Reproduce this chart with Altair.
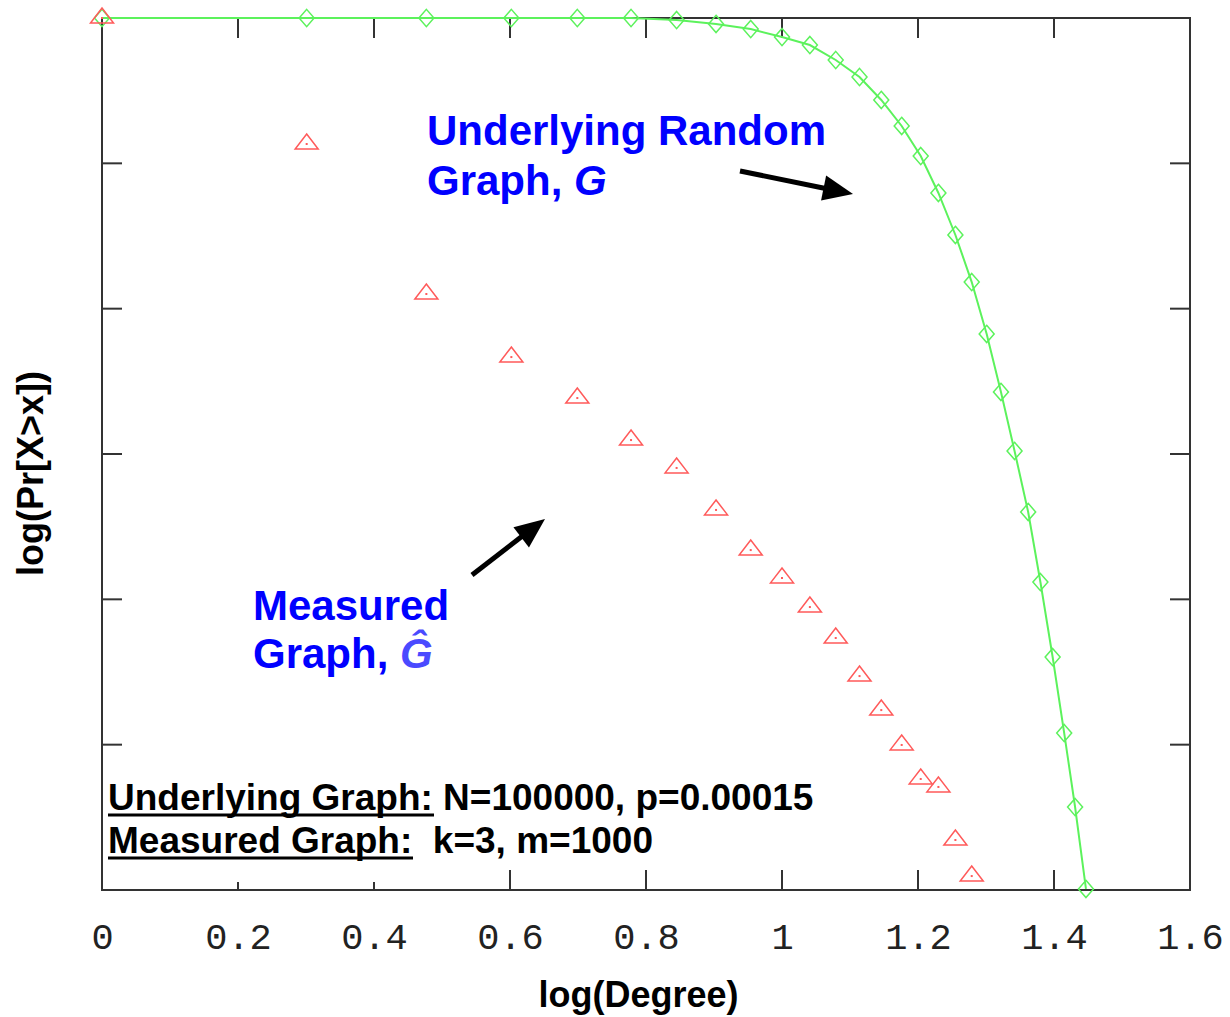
import altair as alt
import pandas as pd

# ---- data ----
log_degree = [0.000, 0.301, 0.477, 0.602, 0.699, 0.778, 0.845, 0.903, 0.954, 1.000,
              1.041, 1.079, 1.114, 1.146, 1.176, 1.204, 1.230, 1.255, 1.279, 1.301,
              1.322, 1.342, 1.362, 1.380, 1.398, 1.415, 1.431, 1.447]
underlying_logpr = [0.0, 0.0, 0.0, 0.0, 0.0, 0.0, -0.014, -0.041, -0.076, -0.131,
                    -0.186, -0.289, -0.406, -0.564, -0.743, -0.950, -1.204, -1.493, -1.817, -2.174,
                    -2.573, -2.979, -3.399, -3.881, -4.397, -4.920, -5.429, -5.993]
measured_logpr = [0.0, -0.867, -1.899, -2.333, -2.615, -2.904, -3.096, -3.385, -3.661, -3.853,
                  -4.053, -4.266, -4.528, -4.762, -5.002, -5.236, -5.291, -5.656, -5.904]
x_label_values = [0, 0.2, 0.4, 0.6, 0.8, 1.0, 1.2, 1.4, 1.6]
x_tick_values = [0.2, 0.4, 0.6, 0.8, 1.0, 1.2, 1.4]
y_tick_values = [-1, -2, -3, -4, -5]

W, H = 1088, 872
GREEN = "#5cf25c"
RED = "#ff5a5a"
BLUE = "#0000ff"
FRAME = "#333333"
SANS = "Liberation Sans"

green_df = pd.DataFrame({"x": log_degree, "y": underlying_logpr})
red_df = pd.DataFrame({"x": log_degree[:len(measured_logpr)], "y": measured_logpr})
xt_df = pd.DataFrame({"v": x_tick_values})
yt_df = pd.DataFrame({"v": y_tick_values})
one = pd.DataFrame({"a": [0]})

xs = alt.Scale(domain=[0, 1.6], nice=False, zero=False)
ys = alt.Scale(domain=[-6, 0], nice=False, zero=False)

xaxis = alt.Axis(values=x_label_values, format="~g", title="log(Degree)", grid=False,
                 domain=False, ticks=False, tickSize=0, labelFont="Liberation Mono",
                 labelFontSize=37, labelColor="#222222", labelBaseline="alphabetic",
                 labelPadding=58, labelFlush=False, labelOverlap=False,
                 titleFont=SANS, titleFontSize=36, titleFontWeight="bold", titleColor="black",
                 titleX=536, titleY=116, titleAlign="center", titleBaseline="alphabetic")
yaxis = alt.Axis(title="log(Pr[X>x])", labels=False, ticks=False, domain=False, grid=False,
                 titleFont=SANS, titleFontSize=36, titleFontWeight="bold", titleColor="black",
                 titleAngle=270, titleX=-60, titleY=455, titleAlign="center",
                 titleBaseline="alphabetic")

X = lambda f: alt.X(f, scale=xs, axis=xaxis)
Y = lambda f: alt.Y(f, scale=ys, axis=yaxis)

layers = []

# inward ticks on all four sides
tick = dict(color=FRAME, strokeWidth=2)
layers.append(alt.Chart(xt_df).mark_rule(**tick).encode(x=X("v:Q"), y=alt.value(H), y2=alt.value(H - 20)))
layers.append(alt.Chart(xt_df).mark_rule(**tick).encode(x=X("v:Q"), y=alt.value(0), y2=alt.value(20)))
layers.append(alt.Chart(yt_df).mark_rule(**tick).encode(y=Y("v:Q"), x=alt.value(0), x2=alt.value(20)))
layers.append(alt.Chart(yt_df).mark_rule(**tick).encode(y=Y("v:Q"), x=alt.value(W), x2=alt.value(W - 20)))

# white box behind the bottom-left caption
layers.append(alt.Chart(one).mark_rect(color="white").encode(
    x=alt.value(2), x2=alt.value(338), y=alt.value(754), y2=alt.value(864)))

# underlying graph: line + hollow diamonds
layers.append(alt.Chart(green_df).mark_line(color=GREEN, strokeWidth=2).encode(x=X("x:Q"), y=Y("y:Q")))
layers.append(alt.Chart(green_df).mark_point(
    shape="M0,-1.15 L1,0 L0,1.15 L-1,0 Z", size=225, filled=False, color=GREEN,
    strokeWidth=1.5, opacity=1).encode(x=X("x:Q"), y=Y("y:Q")))

# measured graph: hollow triangles with centre dot
layers.append(alt.Chart(red_df).mark_point(
    shape="M0,-0.87 L1,0.43 L-1,0.43 Z", size=529, filled=False, color=RED,
    strokeWidth=1.5, opacity=1).encode(x=X("x:Q"), y=Y("y:Q")))
layers.append(alt.Chart(red_df).mark_point(
    shape="square", size=4, filled=True, color=RED, opacity=1).encode(x=X("x:Q"), y=Y("y:Q")))

def txt(s, x, y, size=42, color=BLUE, style="normal"):
    return alt.Chart(one).mark_text(text=s, font=SANS, fontSize=size, fontWeight="bold",
                                    fontStyle=style, color=color, align="left",
                                    baseline="alphabetic").encode(x=alt.value(x), y=alt.value(y))

layers.append(txt("Underlying Random", 325, 127))
layers.append(txt("Graph, ", 325, 177))
layers.append(txt("G", 472, 177, style="italic"))
layers.append(txt("Measured", 151, 602))
layers.append(txt("Graph, ", 151, 650))
layers.append(txt("\u011c", 298, 650, color="#4a4aff", style="italic"))

layers.append(txt("Underlying Graph: N=100000, p=0.00015", 6, 792, size=37, color="black"))
layers.append(txt("Measured Graph:\u00a0 k=3, m=1000", 6, 835, size=37, color="black"))
layers.append(alt.Chart(one).mark_rule(color="black", strokeWidth=3).encode(
    x=alt.value(6), x2=alt.value(332), y=alt.value(797)))
layers.append(alt.Chart(one).mark_rule(color="black", strokeWidth=3).encode(
    x=alt.value(6), x2=alt.value(311), y=alt.value(840)))

# arrows
def arrow(x0, y0, x1, y1, tx, ty, ang):
    shaft = alt.Chart(one).mark_rule(color="black", strokeWidth=5).encode(
        x=alt.value(x0), y=alt.value(y0), x2=alt.value(x1), y2=alt.value(y1))
    head = alt.Chart(one).mark_point(shape="M0,0 L0.85,2 L-0.85,2 Z", size=900, filled=True,
                                     color="black", opacity=1, angle=ang).encode(
        x=alt.value(tx), y=alt.value(ty))
    return [shaft, head]

layers += arrow(740 - 102, 171 - 18, 828 - 102, 189 - 18, 853 - 102, 194 - 18, 101.5)
layers += arrow(472 - 102, 575 - 18, 525 - 102, 534 - 18, 545 - 102, 519 - 18, 52.5)

chart = alt.layer(*layers).properties(
    width=W, height=H,
    padding={"left": 102, "top": 18, "right": 40, "bottom": 127},
    autosize=alt.AutoSizeParams(type="none"),
    background="white",
).configure_view(stroke=FRAME, strokeWidth=2)

chart.save("out.html", embed_options={"renderer": "svg", "actions": False})
